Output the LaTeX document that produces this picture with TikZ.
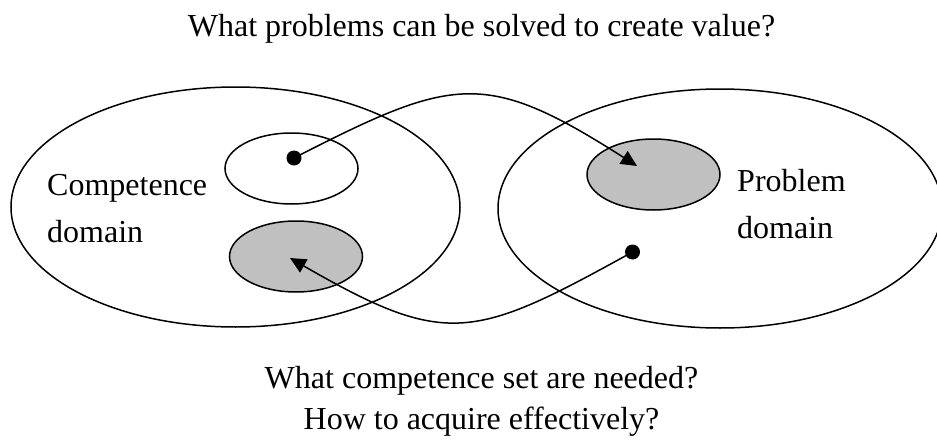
\documentclass[tikz,border=0pt]{standalone}
\usepackage{fontspec}
\setmainfont{Liberation Serif}
\usetikzlibrary{shapes.geometric,arrows.meta}
\definecolor{setgray}{RGB}{192,192,192}
\begin{document}
\begin{tikzpicture}[x=1pt,y=-1pt,
  every node/.style={font=\fontsize{32}{38}\selectfont},
  domainellipse/.style={draw,ellipse,line width=1.5pt,inner sep=0pt,outer sep=0pt},
  subset/.style={draw,ellipse,line width=1.5pt,inner sep=0pt,outer sep=0pt,minimum width=133pt,minimum height=71pt},
  greyset/.style={subset,fill=setgray},
  dotmark/.style={circle,fill=black,inner sep=0pt,minimum size=15pt},
  link/.style={line width=1.5pt,-{Triangle[length=16pt,width=15pt]}},
  label/.style={inner sep=0pt,anchor=base west},
  caption/.style={inner sep=0pt,anchor=base}]
\useasboundingbox (0,0) rectangle (937,444);
\clip (0,0) rectangle (937,444);
% big domains
\node[domainellipse,minimum width=449pt,minimum height=240pt] (comp) at (235.5,207) {};
\node[domainellipse,minimum width=444pt,minimum height=239pt] (prob) at (720,208.5) {};
% subsets
\node[subset] (known) at (291.5,168.5) {};
\node[greyset] (needed) at (296,256.5) {};
\node[greyset] (target) at (653.5,174.5) {};
% dots
\node[dotmark] (d1) at (294,158) {};
\node[dotmark] (d2) at (632.5,252) {};
\coordinate (t1) at (637,166);
\coordinate (t2) at (290,258);
% connectors
\draw[link] (d1.center) .. controls (454,76) and (485,69) .. (t1);
\draw[link] (d2.center) .. controls (473.6,339.8) and (446.7,348.5) .. (t2);
% texts
\node[caption] (q1) at (481.5,37) {What problems can be solved to create value?};
\node[label] (c1) at (47,195) {Competence};
\node[label] (c2) at (47,242) {domain};
\node[label] (p1) at (737,191) {Problem};
\node[label] (p2) at (737,238) {domain};
\node[caption] (q2) at (481.5,388) {What competence set are needed?};
\node[caption] (q3) at (481.5,429) {How to acquire effectively?};
\end{tikzpicture}
\end{document}
